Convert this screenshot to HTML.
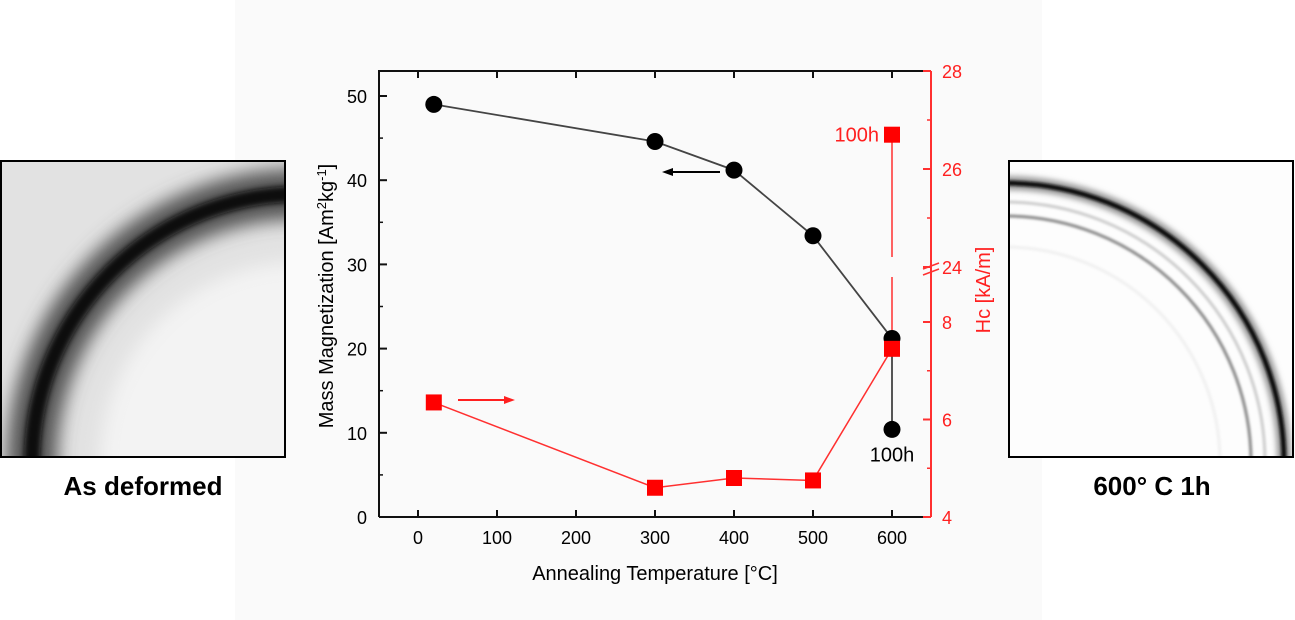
<!DOCTYPE html>
<html><head><meta charset="utf-8"><style>
html,body{margin:0;padding:0;background:#fff;width:1295px;height:620px;overflow:hidden;}
body{position:relative;font-family:"Liberation Sans",Arial,sans-serif;}
svg{display:block;}
</style></head><body>
<svg id="svg" width="1295" height="620" viewBox="0 0 1295 620" xmlns="http://www.w3.org/2000/svg">
<defs>
<filter id="b1" x="-20%" y="-20%" width="140%" height="140%"><feGaussianBlur stdDeviation="9"/></filter>
<filter id="b2" x="-20%" y="-20%" width="140%" height="140%"><feGaussianBlur stdDeviation="3"/></filter>
<filter id="b3" x="-20%" y="-20%" width="140%" height="140%"><feGaussianBlur stdDeviation="1.2"/></filter>
<clipPath id="cl"><rect x="1" y="161" width="284" height="296"/></clipPath>
<clipPath id="cr"><rect x="1009" y="161" width="284" height="296"/></clipPath>
</defs>
<rect x="235" y="0" width="807" height="620" fill="#fafafa"/>
<g>
<g clip-path="url(#cl)">
<rect x="1" y="161" width="284" height="296" fill="#e2e2e2"/>
<circle cx="300" cy="462" r="200" fill="#f3f3f3" filter="url(#b1)"/>
<circle cx="300" cy="462" r="268" fill="none" stroke="#555" stroke-width="50" filter="url(#b1)"/>
<circle cx="300" cy="462" r="268" fill="none" stroke="#080808" stroke-width="16" filter="url(#b2)"/>
</g>
<rect x="1" y="161" width="284" height="296" fill="none" stroke="#000" stroke-width="2"/>
</g>
<text x="143" y="495" font-size="26" font-weight="bold" text-anchor="middle" font-family="'Liberation Sans',sans-serif">As deformed</text>
<g>
<g clip-path="url(#cr)">
<rect x="1009" y="161" width="284" height="296" fill="#fdfdfd"/>
<circle cx="1005" cy="462" r="279" fill="none" stroke="#999" stroke-width="14" filter="url(#b2)"/>
<circle cx="1005" cy="462" r="279" fill="none" stroke="#111" stroke-width="5" filter="url(#b3)"/>
<circle cx="1005" cy="462" r="246" fill="none" stroke="#888" stroke-width="3" filter="url(#b3)"/>
<circle cx="1005" cy="462" r="260" fill="none" stroke="#ccc" stroke-width="3" filter="url(#b3)"/>
<circle cx="1005" cy="462" r="215" fill="none" stroke="#f0f0f0" stroke-width="3" filter="url(#b3)"/>
</g>
<rect x="1009" y="161" width="284" height="296" fill="none" stroke="#000" stroke-width="2"/>
</g>
<text x="1152" y="495" font-size="26" font-weight="bold" text-anchor="middle" font-family="'Liberation Sans',sans-serif">600° C 1h</text>
<g id="chart"></g>
</svg>
<script>
const temps = [20, 300, 400, 500, 600];
const magValues = [49.0, 44.6, 41.2, 33.4, 21.2];
const mag100h = 10.4;
const hcValues = [6.35, 4.6, 4.8, 4.75, 7.45];
const hc100h = 26.7;
const xTicks = [0, 100, 200, 300, 400, 500, 600];
const yTicks = [0, 10, 20, 30, 40, 50];
const hcTicksLow = [4, 6, 8];
const hcTicksHigh = [24, 26, 28];

const NS = 'http://www.w3.org/2000/svg';
const g = document.getElementById('chart');
const L = 379, R = 931, T = 71, B = 517;
const xs = v => 418 + v * (892 - 418) / 600;
const ys = v => 517 - v * (517 - 96) / 50;
const hs = v => v <= 12 ? 517 - (v - 4) * 48.75 : 267 - (v - 24) * 49;
function el(tag, attrs, parent) {
  const e = document.createElementNS(NS, tag);
  for (const k in attrs) e.setAttribute(k, attrs[k]);
  (parent || g).appendChild(e);
  return e;
}
function txt(x, y, s, attrs) {
  const t = el('text', Object.assign({x: x, y: y, 'font-size': 18, 'font-family': "'Liberation Sans',Arial,sans-serif"}, attrs));
  t.textContent = s;
  return t;
}
const fr = el('path', {d: `M${L},${B} L${L},${T} L${R},${T}`, fill: 'none', stroke: '#111', 'stroke-width': 2});


const xa = el('line', {x1: L, y1: B, x2: R, y2: B, stroke: '#111', 'stroke-width': 2});


const ra = el('line', {x1: R, y1: T, x2: R, y2: B, stroke: '#ff3030', 'stroke-width': 2});


xTicks.forEach(v => {
  const x = xs(v);
  el('line', {x1: x, y1: B, x2: x, y2: B - 7, stroke: '#111', 'stroke-width': 2});
  el('line', {x1: x, y1: T, x2: x, y2: T + 7, stroke: '#111', 'stroke-width': 2});
  const t = txt(x, 544, String(v), {'text-anchor': 'middle'});
  
  
});
yTicks.forEach(v => {
  const y = ys(v);
  el('line', {x1: L, y1: y, x2: L + 8, y2: y, stroke: '#111', 'stroke-width': 2});
  if (v < 50) el('line', {x1: L, y1: ys(v + 5), x2: L + 4, y2: ys(v + 5), stroke: '#111', 'stroke-width': 1.5});
  const t = txt(L - 12, y + 7, String(v), {'text-anchor': 'end'});
  
  
});
hcTicksLow.concat(hcTicksHigh).forEach(v => {
  const y = hs(v);
  el('line', {x1: R, y1: y, x2: R - 8, y2: y, stroke: '#ff3030', 'stroke-width': 2});
  if (v !== 8 && v !== 28) el('line', {x1: R, y1: hs(v + 1), x2: R - 4, y2: hs(v + 1), stroke: '#ff3030', 'stroke-width': 1.5});
  const t = txt(R + 11, y + 7, String(v), {fill: '#ff2020'});
  
  
});
const brk = el('path', {d: `M${R-8},${269} L${R+8},${263} M${R-8},${275} L${R+8},${269}`, stroke: '#ff3030', 'stroke-width': 1.5, fill: 'none'});


let t = txt(655, 580, 'Annealing Temperature [°C]', {'text-anchor': 'middle', 'font-size': 20});


t = el('text', {x: 0, y: 0, 'font-size': 20, 'text-anchor': 'middle', 'font-family': "'Liberation Sans',Arial,sans-serif", transform: 'translate(333,296) rotate(-90)'});
t.innerHTML = 'Mass Magnetization [Am<tspan dy="-7" font-size="13">2</tspan><tspan dy="7">kg</tspan><tspan dy="-7" font-size="13">-1</tspan><tspan dy="7">]</tspan>';


t = el('text', {x: 0, y: 0, 'font-size': 20, fill: '#ff2020', 'text-anchor': 'middle', 'font-family': "'Liberation Sans',Arial,sans-serif", transform: 'translate(990,290) rotate(-90)'});
t.textContent = 'Hc [kA/m]';


let d = temps.map((v, i) => (i ? 'L' : 'M') + xs(v) + ',' + ys(magValues[i])).join(' ');
const ml = el('path', {d: d, fill: 'none', stroke: '#444', 'stroke-width': 1.8});


el('line', {x1: xs(600), y1: ys(magValues[4]), x2: xs(600), y2: ys(mag100h), stroke: '#444', 'stroke-width': 1.8});
d = temps.map((v, i) => (i ? 'L' : 'M') + xs(v) + ',' + hs(hcValues[i])).join(' ');
const hl = el('path', {d: d, fill: 'none', stroke: '#ff3030', 'stroke-width': 1.5});


el('line', {x1: xs(600), y1: hs(hc100h), x2: xs(600), y2: 257, stroke: '#ff3030', 'stroke-width': 1.5});
el('line', {x1: xs(600), y1: 277, x2: xs(600), y2: hs(hcValues[4]), stroke: '#ff3030', 'stroke-width': 1.5});
temps.forEach((v, i) => {
  const c = el('circle', {cx: xs(v), cy: ys(magValues[i]), r: 8.5, fill: '#000'});
  
  
});
let c = el('circle', {cx: xs(600), cy: ys(mag100h), r: 8.5, fill: '#000'});


temps.forEach((v, i) => {
  const s = el('rect', {x: xs(v) - 8, y: hs(hcValues[i]) - 8, width: 16, height: 16, fill: '#ff0000'});
  
  
});
let s = el('rect', {x: xs(600) - 8, y: hs(hc100h) - 8, width: 16, height: 16, fill: '#ff0000'});


t = txt(xs(600), ys(mag100h) + 32, '100h', {'text-anchor': 'middle', 'font-size': 20});


t = txt(xs(600) - 13, hs(hc100h) + 7, '100h', {'text-anchor': 'end', 'font-size': 20, fill: '#ff2020'});


let a = el('path', {d: 'M720,172 L670,172', stroke: '#000', 'stroke-width': 2, fill: 'none'});


el('path', {d: 'M662,172 L673,168 L673,176 Z', fill: '#000'});
a = el('path', {d: 'M458,400 L507,400', stroke: '#ff2020', 'stroke-width': 2, fill: 'none'});


el('path', {d: 'M515,400 L504,396 L504,404 Z', fill: '#ff2020'});
</script>
</body></html>
